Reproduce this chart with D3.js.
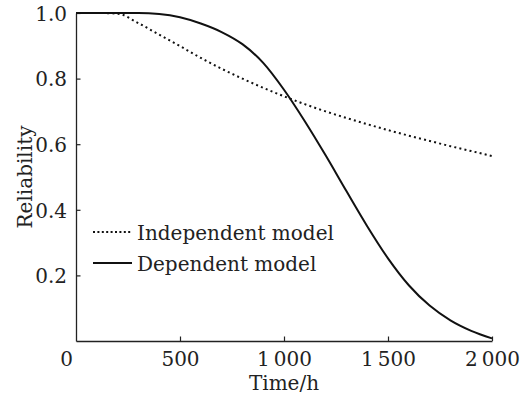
<!DOCTYPE html>
<html>
<head>
<meta charset="utf-8">
<script src="https://cdn.jsdelivr.net/npm/d3@7"></script>
<style>
  html, body { margin: 0; padding: 0; background: #fff; }
  svg text { font-family: "DejaVu Serif", serif; fill: #222; }
</style>
</head>
<body>
<svg id="chart" width="521" height="399"></svg>
<script>
// ---- data ----
const times = [0, 100, 200, 300, 400, 500, 600, 700, 800, 900, 1000,
               1100, 1200, 1300, 1400, 1500, 1600, 1700, 1800, 1900, 2000];
const independentModel = [1, 1, 0.998, 0.969, 0.934, 0.899, 0.863, 0.830, 0.800, 0.772, 0.746,
                          0.722, 0.700, 0.680, 0.661, 0.643, 0.626, 0.610, 0.594, 0.579, 0.564];
const dependentModel = [1, 1, 1, 1, 0.997, 0.987, 0.968, 0.942, 0.905, 0.848, 0.766,
                        0.670, 0.566, 0.457, 0.350, 0.252, 0.170, 0.108, 0.063, 0.031, 0.008];
const xTicks = [0, 500, 1000, 1500, 2000];
const xTickLabels = ["0", "500", "1\u2009000", "1\u2009500", "2\u2009000"];
const yTicks = [0.2, 0.4, 0.6, 0.8, 1.0];
const yTickLabels = ["0.2", "0.4", "0.6", "0.8", "1.0"];
const seriesNames = ["Independent model", "Dependent model"];

const svg = d3.select("#chart");
const x = d3.scaleLinear().domain([0, 2000]).range([76, 492]);
const y = d3.scaleLinear().domain([0, 1]).range([341, 13]);
const fs = 20;

// axes
const xAxis = d3.axisBottom(x).tickValues(xTicks).tickSizeInner(-4.5).tickSizeOuter(0)
  .tickFormat((d, i) => xTickLabels[i]).tickPadding(11);
const yAxis = d3.axisLeft(y).tickValues(yTicks).tickSizeInner(-4.5).tickSizeOuter(0)
  .tickFormat((d, i) => yTickLabels[i]).tickPadding(9);

const gx = svg.append("g").attr("transform", `translate(0,${y(0)})`).call(xAxis);
const gy = svg.append("g").attr("transform", `translate(${x(0)},0)`).call(yAxis);
[gx, gy].forEach(g => {
  g.select(".domain").attr("stroke", "#222").attr("stroke-width", 1.3);
  g.selectAll(".tick line").attr("stroke", "#222").attr("stroke-width", 1.2);
  g.selectAll(".tick text").style("font-family", "DejaVu Serif").attr("font-size", fs).attr("fill", "#222");
});
// first x label sits left of the origin
gx.selectAll(".tick text").filter(d => d === 0).attr("dx", -10);
gx.selectAll(".tick").filter(d => d === 0).select("line").remove();
gy.selectAll(".tick text").attr("dy", "0.36em");

// axis titles
svg.append("text").attr("x", (x(0) + x(2000)) / 2).attr("y", 390)
  .attr("text-anchor", "middle").attr("font-size", fs).text("Time/h");
svg.append("text").attr("transform", `translate(32,${(y(0) + y(1)) / 2}) rotate(-90)`)
  .attr("text-anchor", "middle").attr("font-size", fs).text("Reliability");

// lines
const line = d3.line().curve(d3.curveMonotoneX);
const indepPts = times.map((t, i) => [x(t), y(independentModel[i])]);
const depPts = times.map((t, i) => [x(t), y(dependentModel[i])]);

svg.append("path").attr("d", line(indepPts)).attr("fill", "none")
  .attr("stroke", "#111").attr("stroke-width", 2).attr("stroke-dasharray", "2 3.2");
svg.append("path").attr("d", line(depPts)).attr("fill", "none")
  .attr("stroke", "#111").attr("stroke-width", 2);

// legend
const leg = svg.append("g");
const legRows = [
  { name: seriesNames[0], dash: "2 2.4", yy: 232 },
  { name: seriesNames[1], dash: null, yy: 263 }
];
legRows.forEach(r => {
  leg.append("line").attr("x1", 93).attr("x2", 132).attr("y1", r.yy).attr("y2", r.yy)
    .attr("stroke", "#111").attr("stroke-width", 2)
    .attr("stroke-dasharray", r.dash);
  leg.append("text").attr("x", 137).attr("y", r.yy + 8).attr("font-size", fs).text(r.name);
});
</script>
</body>
</html>
